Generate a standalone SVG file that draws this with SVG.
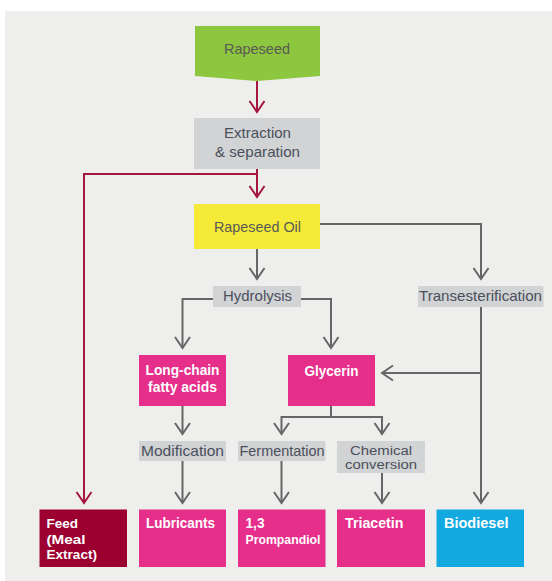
<svg xmlns="http://www.w3.org/2000/svg" width="552" height="581" viewBox="0 0 552 581">
<style>
.lbl{font-family:"Liberation Sans",Arial,sans-serif;font-size:15px;fill:#4b4f5c;text-anchor:middle}
.wt{font-family:"Liberation Sans",Arial,sans-serif;font-size:15px;font-weight:bold;fill:#ffffff}
.wtc{font-family:"Liberation Sans",Arial,sans-serif;font-size:15px;font-weight:bold;fill:#ffffff;text-anchor:middle}
.gray{fill:#d1d3d4}
.pink{fill:#e62e8b}
.g{fill:none;stroke:#666666;stroke-width:2}
.r{fill:none;stroke:#a3173f;stroke-width:2}
</style>
<defs>
<marker id="ag" markerUnits="userSpaceOnUse" markerWidth="20" markerHeight="20" viewBox="-13 -10 15 20" refX="0" refY="0" orient="auto">
<path d="M-11,-7.5 L0,0 L-11,7.5" fill="none" stroke="#666666" stroke-width="2"/>
</marker>
<marker id="ar" markerUnits="userSpaceOnUse" markerWidth="20" markerHeight="20" viewBox="-13 -10 15 20" refX="0" refY="0" orient="auto">
<path d="M-11,-7.5 L0,0 L-11,7.5" fill="none" stroke="#a3173f" stroke-width="2"/>
</marker>
</defs>
<rect x="5" y="11" width="547" height="570" fill="#eeeeec"/>

<g id="connectors">
<path class="r" d="M257,81 L257,112" marker-end="url(#ar)"/>
<path class="r" d="M257,169 L257,197" marker-end="url(#ar)"/>
<path class="r" d="M257,174 L84,174 L84,503" marker-end="url(#ar)"/>
<path class="g" d="M257,249 L257,279" marker-end="url(#ag)"/>
<path class="g" d="M320,224 L481,224 L481,279" marker-end="url(#ag)"/>
<path class="g" d="M213,299 L182.5,299 L182.5,348" marker-end="url(#ag)"/>
<path class="g" d="M301,299 L331,299 L331,348" marker-end="url(#ag)"/>
<path class="g" d="M481,307 L481,503" marker-end="url(#ag)"/>
<path class="g" d="M481,373 L382,373" marker-end="url(#ag)"/>
<path class="g" d="M182.5,406 L182.5,434" marker-end="url(#ag)"/>
<path class="g" d="M331,406 L331,417"/>
<path class="g" d="M281.5,417 L382,417"/>
<path class="g" d="M281.5,416 L281.5,434" marker-end="url(#ag)"/>
<path class="g" d="M382,416 L382,434" marker-end="url(#ag)"/>
<path class="g" d="M182.5,461 L182.5,503" marker-end="url(#ag)"/>
<path class="g" d="M281.5,461 L281.5,503" marker-end="url(#ag)"/>
<path class="g" d="M382,473 L382,503" marker-end="url(#ag)"/>
</g>

<g id="rapeseed">
<path d="M195,26 L320,26 L320,76 L257,81 L195,76 Z" fill="#8dc63f"/>
<text class="lbl" x="257" y="54" textLength="66" lengthAdjust="spacingAndGlyphs" style="fill:#595955">Rapeseed</text>
</g>
<g id="extraction">
<rect class="gray" x="194" y="118" width="126" height="51"/>
<text class="lbl" x="257.5" y="138" textLength="67" lengthAdjust="spacingAndGlyphs">Extraction</text>
<text class="lbl" x="257.5" y="157" textLength="85" lengthAdjust="spacingAndGlyphs">&amp; separation</text>
</g>
<g id="rapeseed-oil">
<rect x="194" y="204" width="126" height="45" fill="#f4ea37"/>
<text class="lbl" x="257.5" y="232" textLength="87" lengthAdjust="spacingAndGlyphs" style="fill:#595955">Rapeseed Oil</text>
</g>
<g id="hydrolysis">
<rect class="gray" x="213" y="286" width="88" height="21"/>
<text class="lbl" x="257.5" y="301" textLength="69" lengthAdjust="spacingAndGlyphs">Hydrolysis</text>
</g>
<g id="transesterification">
<rect class="gray" x="418" y="286" width="125.5" height="21"/>
<text class="lbl" x="480.5" y="301" textLength="123" lengthAdjust="spacingAndGlyphs">Transesterification</text>
</g>
<g id="fatty-acids">
<rect class="pink" x="139" y="355" width="87" height="51"/>
<text class="wtc" x="182.5" y="375" textLength="74" lengthAdjust="spacingAndGlyphs">Long-chain</text>
<text class="wtc" x="182.5" y="392" textLength="69" lengthAdjust="spacingAndGlyphs">fatty acids</text>
</g>
<g id="glycerin">
<rect class="pink" x="288" y="355" width="87" height="51"/>
<text class="wtc" x="331.5" y="375.5" textLength="54" lengthAdjust="spacingAndGlyphs">Glycerin</text>
</g>
<g id="modification">
<rect class="gray" x="139" y="441" width="87" height="20"/>
<text class="lbl" x="182.5" y="456" textLength="83" lengthAdjust="spacingAndGlyphs">Modification</text>
</g>
<g id="fermentation">
<rect class="gray" x="238" y="441" width="87.5" height="20"/>
<text class="lbl" x="282" y="456" textLength="85" lengthAdjust="spacingAndGlyphs">Fermentation</text>
</g>
<g id="chemical-conversion">
<rect class="gray" x="337" y="441" width="88" height="32"/>
<text class="lbl" x="381" y="455" textLength="62" lengthAdjust="spacingAndGlyphs" style="font-size:12.5px">Chemical</text>
<text class="lbl" x="381" y="469" textLength="72" lengthAdjust="spacingAndGlyphs" style="font-size:12.5px">conversion</text>
</g>
<g id="feed">
<rect x="39.5" y="509.5" width="87.5" height="57.5" fill="#9b0030"/>
<text class="wt" x="46.5" y="528" textLength="31.5" lengthAdjust="spacingAndGlyphs" style="font-size:13px">Feed</text>
<text class="wt" x="46.5" y="543.5" textLength="39" lengthAdjust="spacingAndGlyphs" style="font-size:13px">(Meal</text>
<text class="wt" x="46.5" y="558.5" textLength="50.5" lengthAdjust="spacingAndGlyphs" style="font-size:13px">Extract)</text>
</g>
<g id="lubricants">
<rect class="pink" x="139" y="509.5" width="87" height="57.5"/>
<text class="wt" x="146" y="528" textLength="69" lengthAdjust="spacingAndGlyphs">Lubricants</text>
</g>
<g id="prompandiol">
<rect class="pink" x="238" y="509.5" width="87.5" height="57.5"/>
<text class="wt" x="245.5" y="528" textLength="19" lengthAdjust="spacingAndGlyphs">1,3</text>
<text class="wt" x="245.5" y="544" textLength="75" lengthAdjust="spacingAndGlyphs" style="font-size:12px">Prompandiol</text>
</g>
<g id="triacetin">
<rect class="pink" x="337" y="509.5" width="88" height="57.5"/>
<text class="wt" x="345" y="528" textLength="58.5" lengthAdjust="spacingAndGlyphs">Triacetin</text>
</g>
<g id="biodiesel">
<rect x="436.5" y="509.5" width="87.5" height="57.5" fill="#12a9e1"/>
<text class="wt" x="444" y="528" textLength="64.5" lengthAdjust="spacingAndGlyphs">Biodiesel</text>
</g>
</svg>
